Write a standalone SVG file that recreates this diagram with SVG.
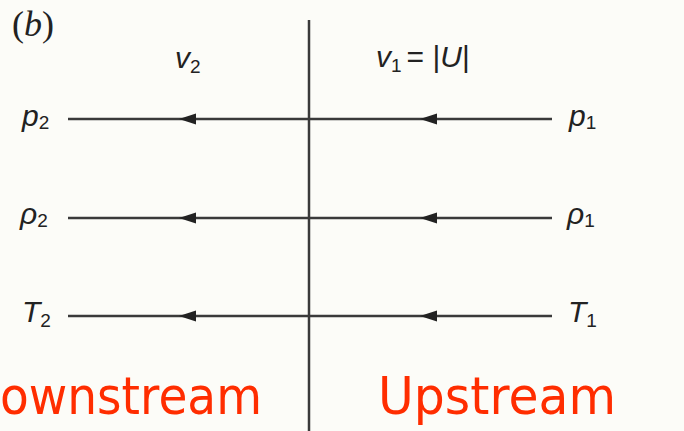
<svg xmlns="http://www.w3.org/2000/svg" width="684" height="431" viewBox="0 0 684 431">
<style>
.lbl{font-family:"Liberation Sans",Arial,sans-serif;font-style:italic;font-size:30px;fill:#222}
.sub{font-size:19px;font-style:normal}
.ln{stroke:#3a3a3a;stroke-width:2.5;fill:none}
.ah{fill:#222}
.red{font-family:"DejaVu Sans","Liberation Sans",sans-serif;font-size:52px;fill:#ff2d00}
</style>
<defs>
<path id="ah" class="ah" d="M0,0 L17,-5.5 L17,5.5 Z"/>
</defs>
<rect width="684" height="431" fill="#fcfcf8"/>
<text x="12" y="36" font-family="Liberation Serif,serif" font-size="36" fill="#222">(<tspan font-style="italic">b</tspan>)</text>
<g id="connectors">
<line class="ln" x1="309" y1="20" x2="309" y2="431" stroke-width="2"/>
<line class="ln" x1="68" y1="119" x2="552" y2="119"/>
<line class="ln" x1="68" y1="218" x2="552" y2="218"/>
<line class="ln" x1="68" y1="316" x2="552" y2="316"/>
<use href="#ah" x="179" y="119"/>
<use href="#ah" x="420" y="119"/>
<use href="#ah" x="179" y="218"/>
<use href="#ah" x="420" y="218"/>
<use href="#ah" x="179" y="316"/>
<use href="#ah" x="420" y="316"/>
</g>
<g id="v2"><text class="lbl" x="175" y="68">v<tspan class="sub" dy="5">2</tspan></text></g>
<g id="v1"><text class="lbl" x="376" y="67">v<tspan class="sub" dy="5">1</tspan><tspan dy="-5" font-style="normal" dx="5">= |<tspan font-style="italic">U</tspan>|</tspan></text></g>
<g id="p2"><text class="lbl" x="22" y="126">p<tspan class="sub" dy="3">2</tspan></text></g>
<g id="p1"><text class="lbl" x="569" y="126">p<tspan class="sub" dy="3">1</tspan></text></g>
<g id="rho2"><text class="lbl" x="20" y="224">ρ<tspan class="sub" dy="3">2</tspan></text></g>
<g id="rho1"><text class="lbl" x="567" y="224">ρ<tspan class="sub" dy="3">1</tspan></text></g>
<g id="T2"><text class="lbl" x="22" y="322">T<tspan class="sub" dy="5">2</tspan></text></g>
<g id="T1"><text class="lbl" x="568" y="322">T<tspan class="sub" dy="5">1</tspan></text></g>
<g id="downstream"><text class="red" x="0" y="414" textLength="262" lengthAdjust="spacingAndGlyphs">ownstream</text></g>
<g id="upstream"><text class="red" x="378" y="414" textLength="238" lengthAdjust="spacingAndGlyphs">Upstream</text></g>
</svg>
